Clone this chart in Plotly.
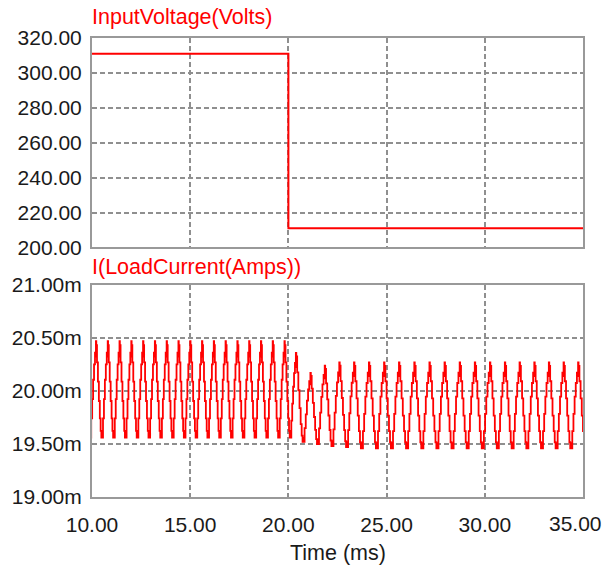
import plotly.graph_objects as go

# ---- Input voltage step (Volts) ----
volt_t = [10.0, 20.0, 35.0]
volt_v = [311.0, 211.0, 211.0]

# ---- Time axis ticks (ms) ----
time_ticks = [10, 15, 20, 25, 30, 35]

# ---- Load current ripple (mA): one entry per ripple peak ----
peak_t = [9.60, 10.20, 10.80, 11.40, 12.00, 12.60, 13.20, 13.80, 14.40, 15.00,
          15.60, 16.20, 16.80, 17.40, 18.00, 18.60, 19.20, 19.80,
          20.38, 21.12, 21.85, 22.59, 23.34, 24.10, 24.87, 25.63, 26.41, 27.18,
          27.95, 28.72, 29.49, 30.26, 31.02, 31.77, 32.52, 33.26, 34.01, 34.75, 35.50]
peak_ma = [20.47, 20.47, 20.47, 20.47, 20.47, 20.47, 20.47, 20.47, 20.47, 20.47,
           20.47, 20.47, 20.47, 20.47, 20.47, 20.47, 20.47, 20.47,
           20.36, 20.17, 20.24, 20.27, 20.27, 20.27, 20.27, 20.27, 20.27, 20.27,
           20.27, 20.27, 20.27, 20.27, 20.27, 20.27, 20.27, 20.27, 20.27, 20.27, 20.27]
# trough reached between each peak and the next one
trough_ma = [19.56, 19.56, 19.56, 19.56, 19.56, 19.56, 19.56, 19.56, 19.56, 19.56,
             19.56, 19.56, 19.56, 19.56, 19.56, 19.56, 19.56, 19.56,
             19.52, 19.50, 19.48, 19.47, 19.46, 19.46, 19.46, 19.46, 19.46, 19.46,
             19.46, 19.46, 19.46, 19.46, 19.46, 19.46, 19.46, 19.46, 19.46, 19.46]

# stepped shape of one ripple cycle (fraction of cycle after the peak, relative level)
fall_frac = [0.00, 0.03, 0.06, 0.09, 0.17, 0.25, 0.33, 0.40, 0.46]
fall_level = [1.00, 0.84, 0.96, 0.78, 0.58, 0.38, 0.20, 0.07, 0.00]
rise_frac = [0.50, 0.53, 0.60, 0.68, 0.76, 0.84, 0.92]
rise_level = [0.06, 0.00, 0.20, 0.40, 0.60, 0.76, 0.88]

cur_t, cur_v = [], []
for k in range(len(trough_ma)):
    t0, t1 = peak_t[k], peak_t[k + 1]
    span = t1 - t0
    lo = trough_ma[k]
    for f, lv in zip(fall_frac, fall_level):
        cur_t.append(t0 + f * span)
        cur_v.append(lo + lv * (peak_ma[k] - lo))
    for f, lv in zip(rise_frac, rise_level):
        cur_t.append(t0 + f * span)
        cur_v.append(lo + lv * (peak_ma[k + 1] - lo))
cur_t.append(peak_t[-1])
cur_v.append(peak_ma[-1])

RED = "#ff0000"
INK = "#1a1a1a"
FONT = "Liberation Sans, Arial, sans-serif"
GRID = dict(showgrid=True, gridcolor="#8f8f8f", gridwidth=1.5, griddash="5px,3px",
            showline=True, mirror=True, linecolor="#999999", linewidth=2,
            zeroline=False, ticks="", automargin=False,
            tickfont=dict(family=FONT, size=21, color=INK))

fig = go.Figure()
fig.add_trace(go.Scatter(x=volt_t, y=volt_v, mode="lines", xaxis="x", yaxis="y",
                         line=dict(color=RED, width=2, shape="hv"), showlegend=False))
fig.add_trace(go.Scatter(x=cur_t, y=cur_v, mode="lines", xaxis="x2", yaxis="y2",
                         line=dict(color=RED, width=1.8, shape="hv"), showlegend=False))

# the last time label is kept inside the page: drawn right-aligned at the edge
inner_ticks = time_ticks[:-1]
last_tick = time_ticks[-1]

fig.update_layout(
    width=606, height=571,
    margin=dict(l=92, r=23, t=38, b=74),
    paper_bgcolor="white", plot_bgcolor="white",
    xaxis=dict(domain=[0, 1], anchor="y", range=[10, 35], tickvals=time_ticks,
               showticklabels=False, **GRID),
    yaxis=dict(domain=[0.5436, 1], anchor="x", range=[200, 320], tick0=200, dtick=20,
               tickformat=".2f", ticklabelstandoff=4, **GRID),
    xaxis2=dict(domain=[0, 1], anchor="y2", range=[10, 35], tickvals=inner_ticks,
                ticktext=[f"{v:.2f}" for v in inner_ticks], ticklabelstandoff=8, **GRID),
    yaxis2=dict(domain=[0, 0.4619], anchor="x2", range=[19, 21], tick0=19, dtick=0.5,
                tickformat=".2f", ticksuffix="m", ticklabelstandoff=4, **GRID),
    annotations=[
        dict(text="InputVoltage(Volts)", xref="x domain", yref="y domain", x=0, y=1,
             xanchor="left", yanchor="middle", yshift=21, xshift=-2, showarrow=False,
             font=dict(family=FONT, size=21.5, color=RED)),
        dict(text="I(LoadCurrent(Amps))", xref="x2 domain", yref="y2 domain", x=0, y=1,
             xanchor="left", yanchor="middle", yshift=17.5, xshift=-2, showarrow=False,
             font=dict(family=FONT, size=21.5, color=RED)),
        dict(text=f"{last_tick:.2f}", xref="paper", yref="y2 domain", x=1, y=0,
             xanchor="right", yanchor="middle", xshift=21, yshift=-26, showarrow=False,
             font=dict(family=FONT, size=21, color=INK)),
        dict(text="Time (ms)", xref="x2 domain", yref="y2 domain", x=0.5, y=0,
             xanchor="center", yanchor="middle", yshift=-56, showarrow=False,
             font=dict(family=FONT, size=21.5, color=INK)),
    ],
)

fig.write_html("out.html")
